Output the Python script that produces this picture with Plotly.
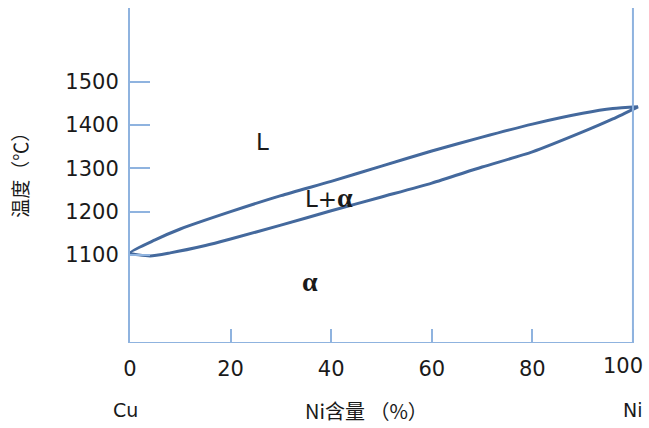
import plotly.graph_objects as go

# Cu–Ni binary phase diagram: liquidus and solidus form a closed lens
liquidus_ni = [0, 5, 10, 20, 30, 40, 50, 60, 70, 80, 90, 96, 101]
liquidus_t = [1105, 1135, 1160, 1200, 1237, 1270, 1305, 1340, 1372, 1402, 1427, 1438, 1442]
solidus_ni = [0, 4, 8, 15, 20, 30, 40, 50, 60, 70, 80, 90, 96, 101]
solidus_t = [1105, 1098, 1105, 1122, 1137, 1169, 1202, 1234, 1266, 1303, 1338, 1384, 1414, 1442]

x_ticks = [0, 20, 40, 60, 80, 100]
y_ticks = [1100, 1200, 1300, 1400, 1500]
x_axis_end = 100
x_range = [0, 101.6]
y_range = [897, 1670]

phase_labels = [("L", 26.4, 1361), ("L+α", 39.6, 1232), ("α", 35.8, 1038)]

LINE = "#44699d"
AXIS = "#8fb3df"
TXT = "#1a1a1a"
FONT = "DejaVu Sans"
TICK_SIZE = 21

# closed loop: up along the liquidus, back along the solidus
loop_x = liquidus_ni + solidus_ni[::-1]
loop_y = liquidus_t + solidus_t[::-1]

fig = go.Figure()
fig.add_trace(go.Scatter(
    x=loop_x, y=loop_y, mode="lines",
    line=dict(color=LINE, width=3, shape="spline", smoothing=0.6),
    hoverinfo="skip", showlegend=False,
))

# bottom axis line and the right-hand boundary at pure Ni
fig.add_shape(type="line", xref="x", yref="y", x0=x_range[0], x1=x_axis_end,
              y0=y_range[0], y1=y_range[0], line=dict(color=AXIS, width=2))
fig.add_shape(type="line", xref="x", yref="y", x0=x_axis_end, x1=x_axis_end,
              y0=y_range[0], y1=y_range[1], line=dict(color=AXIS, width=2))

for text, xv, yv in phase_labels:
    if "α" in text:
        text = text.replace(
            "α", "<span style='font-family:Liberation Serif;font-weight:bold;font-size:28px'>α</span>")
    fig.add_annotation(x=xv, y=yv, xref="x", yref="y", text=text, showarrow=False,
                       font=dict(family=FONT, size=23, color=TXT))

# pixel-based placement below the plot area
plot_h = 428 - 8 - 85
bottom_px = 428 - 85
label_y = -(410 - bottom_px) / plot_h
tick_y = -(366 - bottom_px) / plot_h

# the last tick label is nudged inward so it stays inside the page
x_ticktext = [str(v) for v in x_ticks]
last_label = x_ticktext[-1]
x_ticktext[-1] = ""
fig.add_annotation(x=x_ticks[-1], y=tick_y, xref="x", yref="paper", text=last_label,
                   showarrow=False, xanchor="right", yanchor="middle", xshift=12,
                   font=dict(family=FONT, size=TICK_SIZE, color=TXT))

# composition end labels and axis titles
fig.add_annotation(x=x_range[0], y=label_y, xref="x", yref="paper", text="Cu", showarrow=False,
                   xanchor="center", yanchor="middle", xshift=-5,
                   font=dict(family=FONT, size=19, color=TXT))
fig.add_annotation(x=x_axis_end, y=label_y, xref="x", yref="paper", text="Ni", showarrow=False,
                   xanchor="center", yanchor="middle", font=dict(family=FONT, size=19, color=TXT))
fig.add_annotation(x=47, y=label_y, xref="x", yref="paper", text="Ni含量 （%）", showarrow=False,
                   xanchor="center", yanchor="middle",
                   font=dict(family="Noto Sans CJK SC", size=20, color=TXT))
fig.add_annotation(x=-0.216, y=0.516, xref="paper", yref="paper", text="温度（℃）", showarrow=False,
                   textangle=-90, xanchor="center", yanchor="middle",
                   font=dict(family="Noto Sans CJK SC", size=19, color=TXT))

fig.update_xaxes(
    range=x_range, tickvals=x_ticks, ticktext=x_ticktext,
    ticks="inside", ticklen=14, tickwidth=2, tickcolor=AXIS,
    showline=False, showgrid=False, zeroline=False,
    ticklabelstandoff=11,
    tickfont=dict(family=FONT, size=TICK_SIZE, color=TXT),
)
fig.update_yaxes(
    range=y_range, tickvals=y_ticks, ticktext=[str(v) for v in y_ticks],
    ticks="inside", ticklen=20, tickwidth=2, tickcolor=AXIS,
    showline=True, linecolor=AXIS, linewidth=2,
    showgrid=False, zeroline=False,
    ticklabelstandoff=5,
    tickfont=dict(family=FONT, size=TICK_SIZE, color=TXT),
)
fig.update_layout(
    width=649, height=428,
    margin=dict(l=130, r=8, t=8, b=85, autoexpand=False),
    paper_bgcolor="white", plot_bgcolor="white",
)
fig.write_html("out.html")
